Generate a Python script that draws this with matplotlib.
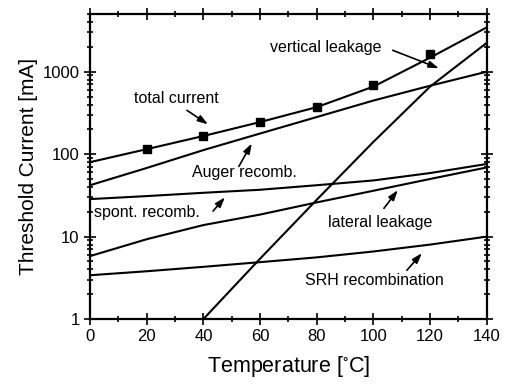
import numpy as np
import matplotlib
matplotlib.use('Agg')
import matplotlib.pyplot as plt
from matplotlib.ticker import LogLocator, NullFormatter, FixedLocator

plt.rcParams['font.family'] = ['Liberation Sans', 'DejaVu Sans']
plt.rcParams['mathtext.default'] = 'regular'

# temperature grid [degC]
temp = [0, 20, 40, 60, 80, 100, 120, 140]

# threshold current components [mA]
total_current = [80, 115, 166, 245, 372, 660, 1480, 3450]
auger = [42, 68, 112, 178, 282, 447, 676, 1000]
spont = [28.5, 31, 34, 37, 42, 48, 59, 76]
lateral = [5.8, 9.3, 13.8, 18.5, 26, 36, 50, 69]
srh = [3.4, 3.8, 4.3, 4.9, 5.6, 6.6, 8.0, 10]

temp_vert = [40, 60, 80, 100, 120, 140]
vertical = [1.0, 5.4, 28, 141, 660, 2240]

# measured points
temp_meas = [20, 40, 60, 80, 100, 120]
meas = [115, 165, 245, 375, 690, 1650]

# labels: text, text pos (T, I), arrow tail, arrow head
labels = [
    ('vertical leakage', (63.5, 1950), (106.8, 1820), (123.1, 1100)),
    ('total current', (15.5, 470), (34.2, 340), (41.6, 230)),
    ('Auger recomb.', (36, 60), (52.5, 71), (57.1, 135)),
    ('spont. recomb.', (1.5, 19.5), (43.4, 20.4), (47.6, 30)),
    ('lateral leakage', (84, 15), (103.7, 22), (108.6, 36.6)),
    ('SRH recombination', (76, 2.9), (111.8, 3.9), (117.1, 6.3)),
]

fig = plt.figure(figsize=(5.06, 3.91), dpi=100)
ax = fig.add_axes([0.178, 0.184, 0.784, 0.780])

lw = 1.5
for y in [total_current, auger, spont, lateral, srh]:
    ax.plot(temp, y, 'k-', lw=lw)
ax.plot(temp_vert, vertical, 'k-', lw=lw)
ax.plot(temp_meas, meas, 'ks', ms=6)

for text, pos, tail, head in labels:
    ax.text(pos[0], pos[1], text, fontsize=11.5, va='center', ha='left')
    ax.annotate('', xy=head, xytext=tail,
                arrowprops=dict(arrowstyle='-|>,head_length=0.6,head_width=0.2',
                                color='k', lw=1.2,
                                mutation_scale=10, shrinkA=0, shrinkB=0))

ax.set_yscale('log')
ax.set_xlim(0, 140)
ax.set_ylim(1, 5000)
ax.xaxis.set_major_locator(FixedLocator(np.arange(0, 141, 20)))
ax.xaxis.set_minor_locator(FixedLocator(np.arange(0, 141, 10)))
ax.yaxis.set_major_locator(FixedLocator([1, 10, 100, 1000]))
ax.yaxis.set_minor_locator(LogLocator(base=10, subs=np.arange(2, 10)))
ax.yaxis.set_minor_formatter(NullFormatter())
ax.set_yticklabels(['1', '10', '100', '1000'])

ax.tick_params(which='both', direction='inout', top=True, right=True,
               labelsize=12, width=1.2)
ax.tick_params(which='major', length=8)
ax.tick_params(which='minor', length=4)
for s in ax.spines.values():
    s.set_linewidth(1.6)

ax.set_xlabel(r'Temperature [$^{\circ}$C]', fontsize=15.5, labelpad=7)
ax.set_ylabel('Threshold Current [mA]', fontsize=15, labelpad=3)

fig.savefig('out.png', dpi=100)
